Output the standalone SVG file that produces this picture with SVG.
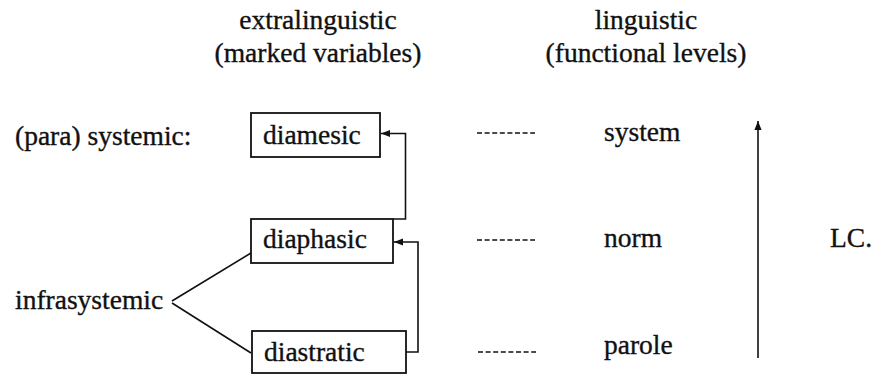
<svg xmlns="http://www.w3.org/2000/svg" width="873" height="374" viewBox="0 0 873 374">
<style>
text{font-family:"Liberation Serif","Times New Roman",serif;font-size:27.5px;fill:#111;stroke:#111;stroke-width:0.35}
.c{text-anchor:middle}
.box{fill:none;stroke:#111;stroke-width:1.8}
.ln{fill:none;stroke:#111;stroke-width:1.6}
.dash{stroke:#111;stroke-width:1.4;stroke-dasharray:5 2.6}
</style>
<defs>
<marker id="ah" viewBox="0 0 10 10" refX="10" refY="5" markerWidth="9" markerHeight="9" markerUnits="userSpaceOnUse" orient="auto">
<path d="M0,1 L10,5 L0,9 z" fill="#111"/>
</marker>
</defs>
<g id="headers">
<text class="c" x="318" y="29">extralinguistic</text>
<text class="c" x="318" y="62">(marked variables)</text>
<text class="c" x="646" y="29">linguistic</text>
<text class="c" x="646" y="62">(functional levels)</text>
</g>
<g id="para-systemic"><text x="15" y="145">(para) systemic:</text></g>
<g id="infrasystemic"><text x="15" y="309">infrasystemic</text></g>
<g id="diamesic"><rect class="box" x="251" y="113" width="129" height="44"/><text x="263" y="144">diamesic</text></g>
<g id="diaphasic"><rect class="box" x="251" y="219" width="142" height="44"/><text x="263" y="248">diaphasic</text></g>
<g id="diastratic"><rect class="box" x="252" y="331" width="154" height="42"/><text x="264" y="361">diastratic</text></g>
<g id="system"><text x="604" y="141">system</text></g>
<g id="norm"><text x="604" y="247">norm</text></g>
<g id="parole"><text x="604" y="354">parole</text></g>
<g id="lc"><text x="830" y="247">LC.</text></g>
<g id="connectors">
<polyline class="ln" points="393,219 405.5,219 405.5,133.5 381,133.5" marker-end="url(#ah)"/>
<polyline class="ln" points="406,352 418,352 418,242 394,242" marker-end="url(#ah)"/>
<line class="ln" x1="172" y1="301" x2="251" y2="253"/>
<line class="ln" x1="172" y1="303" x2="251" y2="353"/>
<line class="dash" x1="477" y1="133" x2="535" y2="133"/>
<line class="dash" x1="477" y1="240" x2="535" y2="240"/>
<line class="dash" x1="478" y1="352" x2="536" y2="352"/>
<line class="ln" x1="758" y1="358" x2="758" y2="121" marker-end="url(#ah)"/>
</g>
</svg>
